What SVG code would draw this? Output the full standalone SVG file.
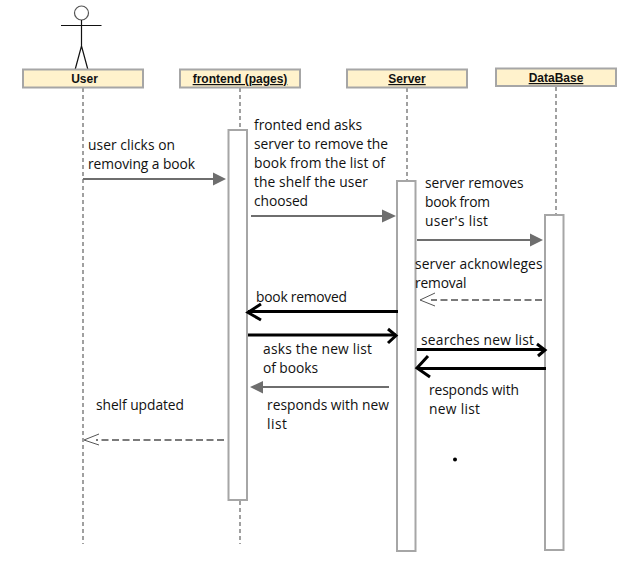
<svg xmlns="http://www.w3.org/2000/svg" width="638" height="571" viewBox="0 0 638 571">
<style>
.box{fill:#fff2cc;stroke:#a6a6a6;stroke-width:2}
.act{fill:#fff;stroke:#a6a6a6;stroke-width:2}
.life{stroke:#a0a0a0;stroke-width:2;stroke-dasharray:4 3;fill:none}
.h{font:bold 12px "Liberation Sans",Arial,sans-serif;fill:#111;text-anchor:middle}
.u{text-decoration:underline}
.t{font:13.800px "Open Sans",sans-serif;fill:#111}
.g{stroke:#6e6e6e;stroke-width:2;fill:none}
.gh{fill:#6e6e6e;stroke:none}
.d{stroke:#7a7a7a;stroke-width:2;stroke-dasharray:7 3.500;fill:none}
.o{stroke:#555;stroke-width:1;fill:none}
.k{stroke:#000;stroke-width:3;fill:none}
</style>
<rect width="638" height="571" fill="#fff"/>
<g id="lifelines">
<path class="life" d="M83 88V544"/>
<path class="life" d="M240 88V129M240 501V544"/>
<path class="life" d="M407 88V180"/>
<path class="life" d="M556 87V215"/>
</g>
<g id="actor" fill="none" stroke="#111" stroke-width="1.200">
<circle cx="81.500" cy="13" r="7" fill="#fff" stroke="#555"/>
<path d="M81.500 20V46M61 25.500H101.500M81.500 46L75 70M81.500 46L88 70"/>
</g>
<g id="user"><rect class="box" x="23" y="69.500" width="120" height="18"/><text class="h" x="84.500" y="83">User</text></g>
<g id="frontend"><rect class="box" x="180" y="69.500" width="120" height="18"/><text class="h u" x="240" y="83">frontend (pages)</text></g>
<g id="server"><rect class="box" x="347" y="69.500" width="120" height="18"/><text class="h u" x="407" y="83">Server</text></g>
<g id="database"><rect class="box" x="496" y="68.500" width="120" height="17.500"/><text class="h u" x="556" y="82">DataBase</text></g>
<g id="act-frontend"><rect class="act" x="228.500" y="130" width="18.500" height="370"/></g>
<g id="act-server"><rect class="act" x="397" y="181" width="18.500" height="370"/></g>
<g id="act-database"><rect class="act" x="545" y="215" width="18.500" height="335"/></g>
<g id="connectors">
<path class="g" d="M83 179H214"/><path class="gh" d="M213 172.500L226 179L213 185.500Z"/>
<path class="g" d="M251 216H384"/><path class="gh" d="M382 209.500L396 216L382 222.500Z"/>
<path class="g" d="M417 240H532"/><path class="gh" d="M530 233.500L543 240L530 246.500Z"/>
<path class="d" d="M542 300H431"/><path class="o" d="M435 293L420 300L435 306"/>
<path class="k" d="M398 311.500H248"/><path class="k" d="M261 304L248 312.500L261 320"/>
<path class="k" d="M248 335H396"/><path class="k" d="M388 329L396 335.500L388 343"/>
<path class="g" d="M389 387H262"/><path class="gh" d="M263 381L250 387L263 393.500Z"/>
<path class="d" d="M224 440H96"/><path class="o" d="M99 434L84 440L99 445"/>
<path class="k" d="M417 349.500H544"/><path class="k" d="M537 344L545 350L538 356"/>
<path class="k" d="M546 368.500H418"/><path class="k" d="M428 356L417 368L430 377"/>
</g>
<g id="labels">
<text class="t" x="88" y="150" textLength="87">user clicks on</text>
<text class="t" x="88" y="169" textLength="107">removing a book</text>
<text class="t" x="254" y="130" textLength="108">fronted end asks</text>
<text class="t" x="254" y="149" textLength="134">server to remove the</text>
<text class="t" x="254" y="168" textLength="131">book from the list of</text>
<text class="t" x="254" y="187" textLength="114">the shelf the user</text>
<text class="t" x="254" y="206" textLength="54">choosed</text>
<text class="t" x="425" y="188" textLength="98.500">server removes</text>
<text class="t" x="425" y="207" textLength="65">book from</text>
<text class="t" x="425" y="226" textLength="63">user's list</text>
<text class="t" x="415" y="269" textLength="127.500">server acknowleges</text>
<text class="t" x="415" y="288" textLength="51.500">removal</text>
<text class="t" x="256" y="302" textLength="91">book removed</text>
<text class="t" x="263" y="354" textLength="109">asks the new list</text>
<text class="t" x="263" y="373" textLength="55">of books</text>
<text class="t" x="96" y="410" textLength="88">shelf updated</text>
<text class="t" x="267" y="410" textLength="122">responds with new</text>
<text class="t" x="267" y="429" textLength="20">list</text>
<text class="t" x="421" y="345" textLength="113">searches new list</text>
<text class="t" x="429" y="395" textLength="90">responds with</text>
<text class="t" x="429" y="414" textLength="51">new list</text>
</g>
<circle cx="455" cy="459.500" r="2" fill="#000"/>
</svg>
